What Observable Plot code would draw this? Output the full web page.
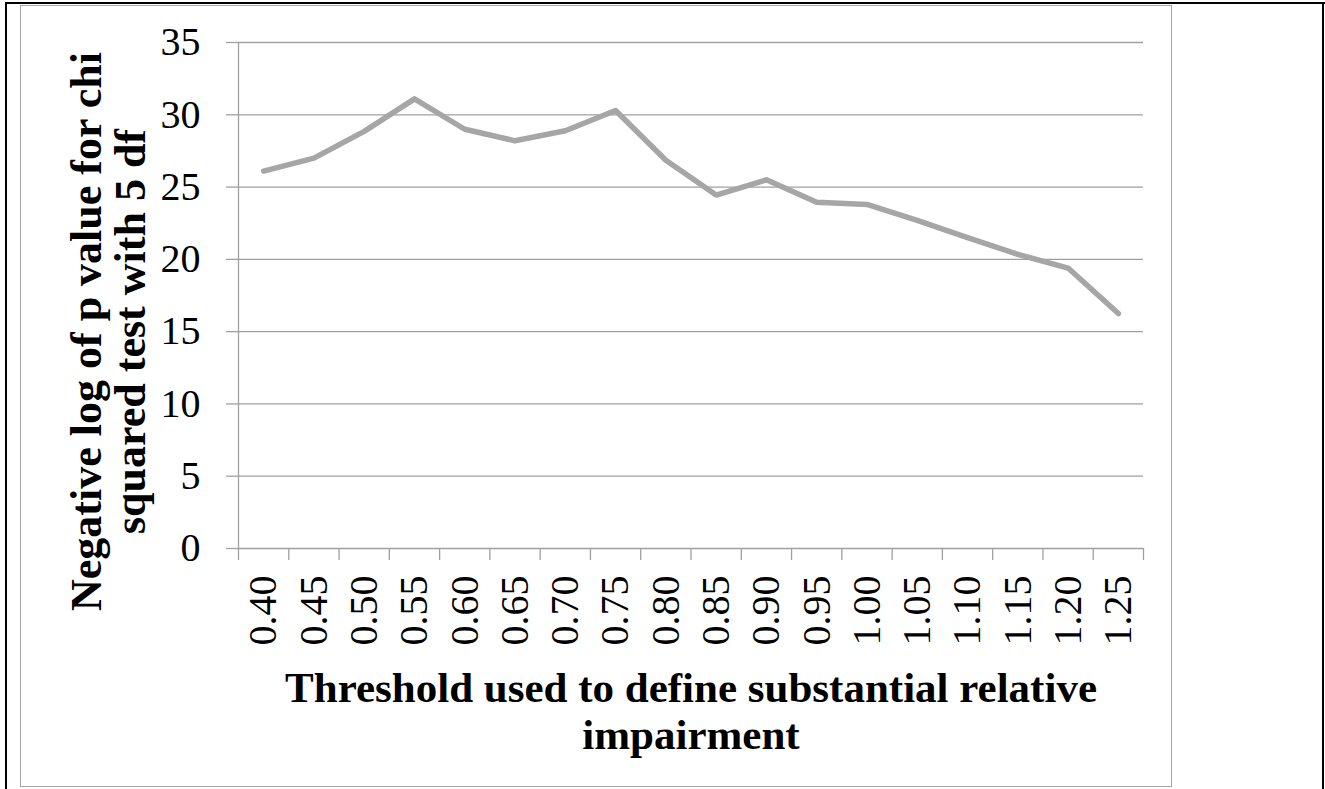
<!DOCTYPE html>
<html>
<head>
<meta charset="utf-8">
<script src="https://cdn.jsdelivr.net/npm/d3@7"></script>
<script src="https://cdn.jsdelivr.net/npm/@observablehq/plot@0.6"></script>
<style>
  html, body { margin: 0; padding: 0; background: #fff; }
  #wrap { position: relative; width: 1325px; height: 789px; overflow: hidden; }
  #wrap svg { position: absolute; left: 0; top: 0; }
  .bl { position: absolute; background: #000; }
  .chartframe { position: absolute; left: 20px; top: 5px; width: 1152px; height: 782px; border: 1.5px solid #a6a6a6; box-sizing: border-box; }
</style>
</head>
<body>
<div id="wrap">
  <div class="chartframe"></div>
  <div class="bl" style="left:5px;top:2px;width:1320px;height:2px"></div>
  <div class="bl" style="left:5px;top:2px;width:2px;height:800px"></div>
  <div class="bl" style="left:1322px;top:2px;width:2px;height:800px"></div>
</div>
<script>
// Data
const thresholds = ["0.40","0.45","0.50","0.55","0.60","0.65","0.70","0.75","0.80","0.85","0.90","0.95","1.00","1.05","1.10","1.15","1.20","1.25"];
const negLogP = [26.1, 27.0, 28.85, 31.1, 29.0, 28.2, 28.9, 30.3, 26.85, 24.45, 25.5, 23.95, 23.8, 22.7, 21.5, 20.35, 19.4, 16.25];
const yTicks = [0, 5, 10, 15, 20, 25, 30, 35];
const xTitle = "Threshold used to define substantial relative\nimpairment";
const yTitle = "Negative log of p value for chi\nsquared test with 5 df";

const data = thresholds.map((t, i) => ({i, t, v: negLogP[i]}));
const boundaries = d3.range(0, thresholds.length + 1);
const centers = thresholds.map((t, i) => i + 0.5);

const gridColor = "#a0a0a0";

const chart = Plot.plot({
  width: 1325,
  height: 789,
  marginLeft: 238,
  marginRight: 182,
  marginTop: 42,
  marginBottom: 241,
  style: {fontFamily: "'Liberation Serif', 'Times New Roman', serif", fontSize: "40px", color: "#000", background: "transparent", overflow: "visible"},
  x: {domain: [0, thresholds.length], label: null},
  y: {domain: [0, 35], label: null},
  marks: [
    Plot.gridY(yTicks, {stroke: gridColor, strokeOpacity: 1, strokeWidth: 1.3}),
    Plot.axisY(yTicks, {tickSize: 12, tickPadding: 26, stroke: gridColor, strokeWidth: 1.3, fill: "#000", fontSize: 40, label: null}),
    Plot.ruleX([0], {y1: 0, y2: 35, stroke: gridColor, strokeWidth: 1.3}),
    Plot.axisX(boundaries, {tickSize: 12, tickFormat: () => "", stroke: gridColor, strokeWidth: 1.3, label: null}),
    Plot.axisX(centers, {tickSize: 0, tickPadding: 27, tickRotate: -90, tickFormat: d => thresholds[Math.floor(d)], fill: "#000", fontSize: 40, label: null}),
    Plot.line(data, {x: d => d.i + 0.5, y: "v", stroke: "#a6a6a6", strokeWidth: 5.5, strokeLinejoin: "round", strokeLinecap: "round"}),
    Plot.text([xTitle], {frameAnchor: "bottom", dy: 121, text: d => d, fontSize: 43, fontWeight: "bold", lineHeight: 1.08, lineAnchor: "top", textAnchor: "middle", fill: "#000"}),
    Plot.text([yTitle], {frameAnchor: "left", dx: -130, dy: 36, rotate: -90, text: d => d, fontSize: 44, fontWeight: "bold", lineHeight: 1.0, lineAnchor: "middle", textAnchor: "middle", fill: "#000"})
  ]
});
document.getElementById("wrap").appendChild(chart);
</script>
</body>
</html>
